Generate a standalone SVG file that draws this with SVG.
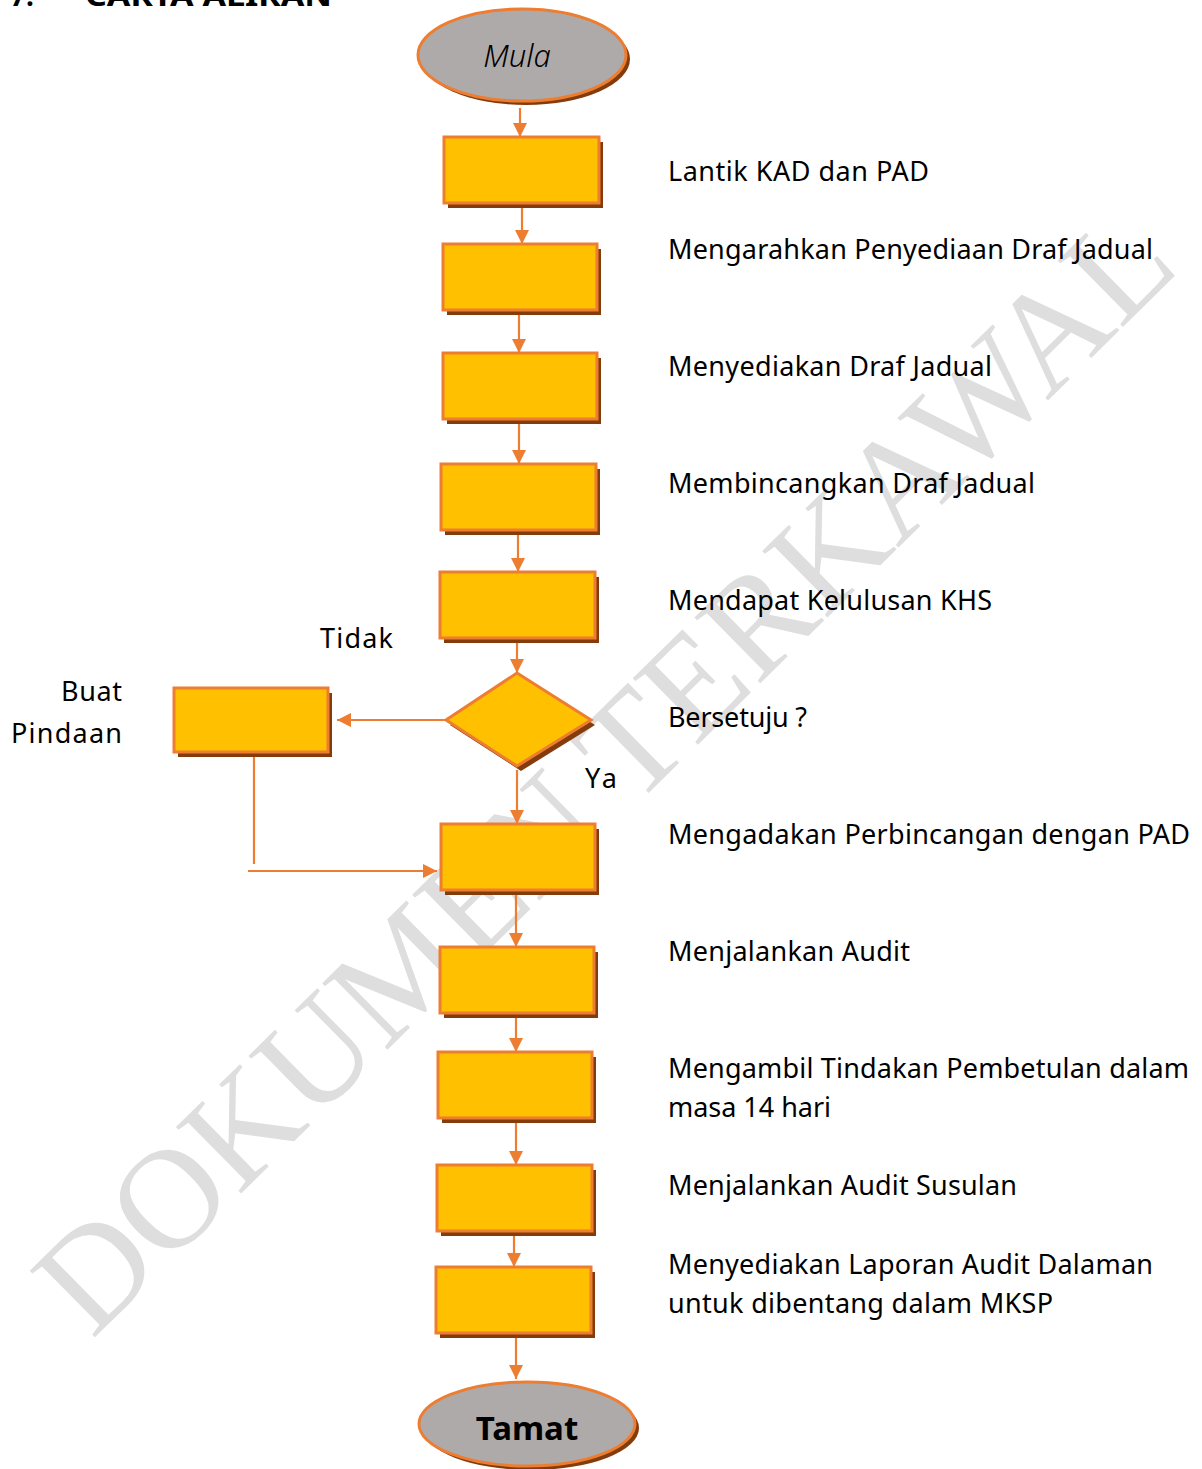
<svg xmlns="http://www.w3.org/2000/svg" width="1202" height="1469" viewBox="0 0 1202 1469">
<style>
.wm{font-family:"Liberation Serif","Times New Roman",serif;font-size:142px;fill:#dedede}
.lbl{font-family:"Noto Sans","Open Sans",sans-serif;font-size:27px;fill:#000}
.ttl{font-family:"Noto Sans","Open Sans",sans-serif;font-size:28px;font-weight:bold;fill:#000}
.mula{font-family:"Noto Sans","Open Sans",sans-serif;font-size:31px;font-style:italic;font-weight:300;fill:#000}
.tamat{font-family:"Noto Sans","Open Sans",sans-serif;font-size:33px;font-weight:bold;fill:#000}
.box{fill:#ffc000;stroke:#ed7d31;stroke-width:3}
.term{fill:#aeaaaa;stroke:#ed7d31;stroke-width:3}
.sh{fill:#843c0c}
.con{fill:none;stroke:#ed7d31;stroke-width:2.2}
</style>
<defs>
<marker id="ah" markerUnits="userSpaceOnUse" markerWidth="14" markerHeight="14" viewBox="0 0 14 14" refX="14" refY="7" orient="auto">
<path d="M0,0 L14,7 L0,14 Z" fill="#ed7d31"/>
</marker>
</defs>
<rect width="1202" height="1469" fill="#fff"/>
<g id="watermark">
<text class="wm" transform="translate(92,1340) rotate(-44.5)" x="0" y="0">DOKUMEN TERKAWAL</text>
</g>
<g id="title">
<text class="ttl" x="10" y="6">7.</text>
<text class="ttl" x="85" y="6" textLength="247" lengthAdjust="spacingAndGlyphs">CARTA ALIRAN</text>
</g>
<g id="connectors">
<line class="con" x1="520" y1="108" x2="520" y2="137" marker-end="url(#ah)"/>
<line class="con" x1="522" y1="207" x2="522" y2="244" marker-end="url(#ah)"/>
<line class="con" x1="519" y1="314" x2="519" y2="353" marker-end="url(#ah)"/>
<line class="con" x1="519" y1="423" x2="519" y2="464" marker-end="url(#ah)"/>
<line class="con" x1="518" y1="534" x2="518" y2="572" marker-end="url(#ah)"/>
<line class="con" x1="517" y1="642" x2="517" y2="673" marker-end="url(#ah)"/>
<line class="con" x1="446" y1="720" x2="337" y2="720" marker-end="url(#ah)"/>
<line class="con" x1="517" y1="770" x2="517" y2="824" marker-end="url(#ah)"/>
<line class="con" x1="254" y1="756" x2="254" y2="864"/>
<line class="con" x1="248" y1="871" x2="437" y2="871" marker-end="url(#ah)"/>
<line class="con" x1="516" y1="894" x2="516" y2="947" marker-end="url(#ah)"/>
<line class="con" x1="516" y1="1017" x2="516" y2="1052" marker-end="url(#ah)"/>
<line class="con" x1="516" y1="1122" x2="516" y2="1165" marker-end="url(#ah)"/>
<line class="con" x1="514" y1="1227" x2="514" y2="1267" marker-end="url(#ah)"/>
<line class="con" x1="516" y1="1337" x2="516" y2="1379" marker-end="url(#ah)"/>
</g>
<g id="mula">
<ellipse class="sh" cx="526" cy="59" rx="104" ry="46"/>
<ellipse class="term" cx="522" cy="55" rx="104" ry="46"/>
<text class="mula" x="517" y="67" text-anchor="middle">Mula</text>
</g>
<g id="n1">
<rect class="sh" x="448" y="142" width="155" height="66"/>
<rect class="box" x="444" y="137" width="155" height="66"/>
<text class="lbl" x="668" y="181" textLength="261">Lantik KAD dan PAD</text>
</g>
<g id="n2">
<rect class="sh" x="447" y="249" width="154" height="66"/>
<rect class="box" x="443" y="244" width="154" height="66"/>
<text class="lbl" x="668" y="259" textLength="485">Mengarahkan Penyediaan Draf Jadual</text>
</g>
<g id="n3">
<rect class="sh" x="447" y="358" width="154" height="66"/>
<rect class="box" x="443" y="353" width="154" height="66"/>
<text class="lbl" x="668" y="376" textLength="324">Menyediakan Draf Jadual</text>
</g>
<g id="n4">
<rect class="sh" x="445" y="469" width="155" height="66"/>
<rect class="box" x="441" y="464" width="155" height="66"/>
<text class="lbl" x="668" y="493" textLength="367">Membincangkan Draf Jadual</text>
</g>
<g id="n5">
<rect class="sh" x="444" y="577" width="155" height="66"/>
<rect class="box" x="440" y="572" width="155" height="66"/>
<text class="lbl" x="668" y="610" textLength="324">Mendapat Kelulusan KHS</text>
</g>
<g id="decision">
<polygon class="sh" points="521,678 595,725 521,771 450,725"/>
<polygon class="box" points="517,673 591,720 517,766 446,720"/>
<text class="lbl" x="668" y="727" textLength="139">Bersetuju ?</text>
<text class="lbl" x="320" y="648" textLength="73">Tidak</text>
<text class="lbl" x="585" y="788" textLength="32">Ya</text>
</g>
<g id="pindaan">
<rect class="sh" x="178" y="693" width="154" height="64"/>
<rect class="box" x="174" y="688" width="154" height="64"/>
<text class="lbl" x="61" y="701" textLength="61">Buat</text>
<text class="lbl" x="11" y="743" textLength="111">Pindaan</text>
</g>
<g id="n6">
<rect class="sh" x="445" y="829" width="154" height="66"/>
<rect class="box" x="441" y="824" width="154" height="66"/>
<text class="lbl" x="668" y="844" textLength="522">Mengadakan Perbincangan dengan PAD</text>
</g>
<g id="n7">
<rect class="sh" x="444" y="952" width="154" height="66"/>
<rect class="box" x="440" y="947" width="154" height="66"/>
<text class="lbl" x="668" y="961" textLength="242">Menjalankan Audit</text>
</g>
<g id="n8">
<rect class="sh" x="442" y="1057" width="154" height="66"/>
<rect class="box" x="438" y="1052" width="154" height="66"/>
<text class="lbl" x="668" y="1078" textLength="521">Mengambil Tindakan Pembetulan dalam</text>
<text class="lbl" x="668" y="1117" textLength="163">masa 14 hari</text>
</g>
<g id="n9">
<rect class="sh" x="441" y="1170" width="155" height="66"/>
<rect class="box" x="437" y="1165" width="155" height="66"/>
<text class="lbl" x="668" y="1195" textLength="349">Menjalankan Audit Susulan</text>
</g>
<g id="n10">
<rect class="sh" x="440" y="1272" width="155" height="66"/>
<rect class="box" x="436" y="1267" width="155" height="66"/>
<text class="lbl" x="668" y="1274" textLength="485">Menyediakan Laporan Audit Dalaman</text>
<text class="lbl" x="668" y="1313" textLength="385">untuk dibentang dalam MKSP</text>
</g>
<g id="tamat">
<ellipse class="sh" cx="531" cy="1428" rx="108" ry="42"/>
<ellipse class="term" cx="527" cy="1424" rx="108" ry="42"/>
<text class="tamat" x="527" y="1440" text-anchor="middle">Tamat</text>
</g>
</svg>
